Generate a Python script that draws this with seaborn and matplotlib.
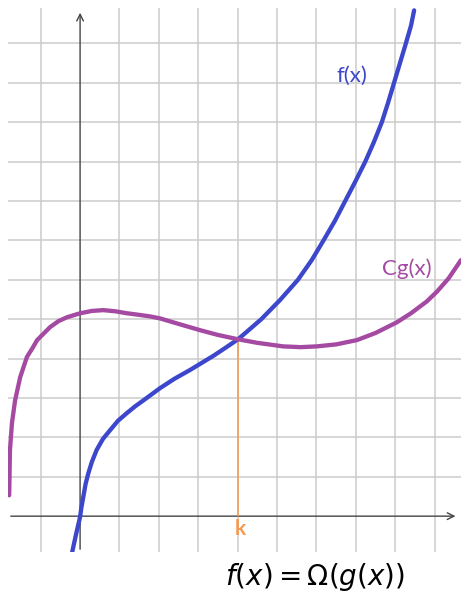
import matplotlib
matplotlib.use("Agg")
import matplotlib.pyplot as plt
import pandas as pd
import seaborn as sns

# values (one grid cell = 1 unit)
f_x = [-0.20, -0.10, 0.00, 0.03, 0.08, 0.14, 0.21, 0.30, 0.42, 0.58, 0.76, 0.96,
       1.18, 1.40, 1.61, 2.03, 2.40, 2.79, 3.40, 3.70, 4.01, 4.30, 4.60, 5.07,
       5.53, 5.88, 6.18, 6.47, 6.73, 6.99, 7.24, 7.46, 7.66, 7.82, 7.97, 8.12,
       8.27, 8.40, 8.48]
f_y = [-0.91, -0.45, -0.02, 0.20, 0.48, 0.82, 1.09, 1.38, 1.68, 1.96, 2.18, 2.42,
       2.61, 2.79, 2.94, 3.25, 3.49, 3.71, 4.08, 4.28, 4.49, 4.74, 5.00, 5.48,
       6.00, 6.50, 7.00, 7.50, 8.00, 8.50, 9.00, 9.50, 10.00, 10.50, 11.00, 11.50,
       12.00, 12.45, 12.84]

g_x = [-1.80, -1.79, -1.78, -1.73, -1.65, -1.52, -1.35, -1.20, -1.09, -0.76, -0.55,
       -0.33, 0.00, 0.30, 0.59, 0.90, 1.19, 1.50, 1.78, 2.03, 2.50, 3.05, 3.50,
       4.01, 4.50, 5.15, 5.60, 6.01, 6.50, 7.03, 7.50, 8.04, 8.40, 8.80, 9.06,
       9.35, 9.67]
g_y = [0.53, 1.10, 1.68, 2.36, 2.94, 3.53, 4.04, 4.28, 4.47, 4.80, 4.95,
       5.05, 5.15, 5.21, 5.23, 5.20, 5.15, 5.11, 5.07, 5.02, 4.88, 4.72, 4.60,
       4.49, 4.40, 4.31, 4.29, 4.31, 4.36, 4.47, 4.65, 4.92, 5.15, 5.45, 5.70,
       6.03, 6.50]

k_x = 4.01
k_y = 4.49

grid_x = [-1, 1, 2, 3, 4, 5, 6, 7, 8, 9]
grid_y = [1, 2, 3, 4, 5, 6, 7, 8, 9, 10, 11, 12]

BLUE = "#3d47cc"
PURPLE = "#a54aa2"
ORANGE = "#f59a50"

sns.set_style("white")
plt.rcParams["font.family"] = ["Lato", "DejaVu Sans"]
plt.rcParams["mathtext.fontset"] = "dejavusans"

fig = plt.figure(figsize=(4.61, 5.93), dpi=100)
ax = fig.add_axes([8 / 461, 41 / 593, 453 / 461, 544 / 593])
ax.set_xlim(-1.83, 9.67)
ax.set_ylim(-0.91, 12.9)
ax.axis("off")

for gx in grid_x:
    ax.axvline(gx, color="#cccccc", lw=1.1, zorder=0)
for gy in grid_y:
    ax.axhline(gy, color="#cccccc", lw=1.1, zorder=0)

# axes with open arrow heads
arrow = dict(arrowstyle="->", color="#444444", lw=1.0, mutation_scale=12)
ax.annotate("", xy=(9.6, 0), xytext=(-1.83, 0), arrowprops=arrow, zorder=2)
ax.annotate("", xy=(0, 12.85), xytext=(0, -0.91), arrowprops=arrow, zorder=2)

# k marker
ax.plot([k_x, k_x], [0, k_y], color=ORANGE, lw=1.1, zorder=3)
ax.text(k_x + 0.05, -0.32, "k", color=ORANGE, fontsize=15, fontweight="bold",
        ha="center", va="center")

curves = pd.DataFrame({
    "x": f_x + g_x,
    "y": f_y + g_y,
    "curve": ["f"] * len(f_x) + ["Cg"] * len(g_x),
})
sns.lineplot(data=curves, x="x", y="y", hue="curve", palette={"f": BLUE, "Cg": PURPLE},
             sort=False, estimator=None, lw=3.1, legend=False, ax=ax, zorder=4)
for line in ax.lines[-2:]:
    line.set_solid_capstyle("round")
    line.set_solid_joinstyle("round")

ax.text(6.9, 11.17, "f(x)", color=BLUE, fontsize=16, ha="center", va="center")
ax.text(8.3, 6.29, "Cg(x)", color=PURPLE, fontsize=16, ha="center", va="center")

fig.text(315 / 461, 16 / 593, r"$f(x) = \Omega(g(x))$", fontsize=20,
         ha="center", va="center", color="black")

fig.savefig("out.png", dpi=100)
